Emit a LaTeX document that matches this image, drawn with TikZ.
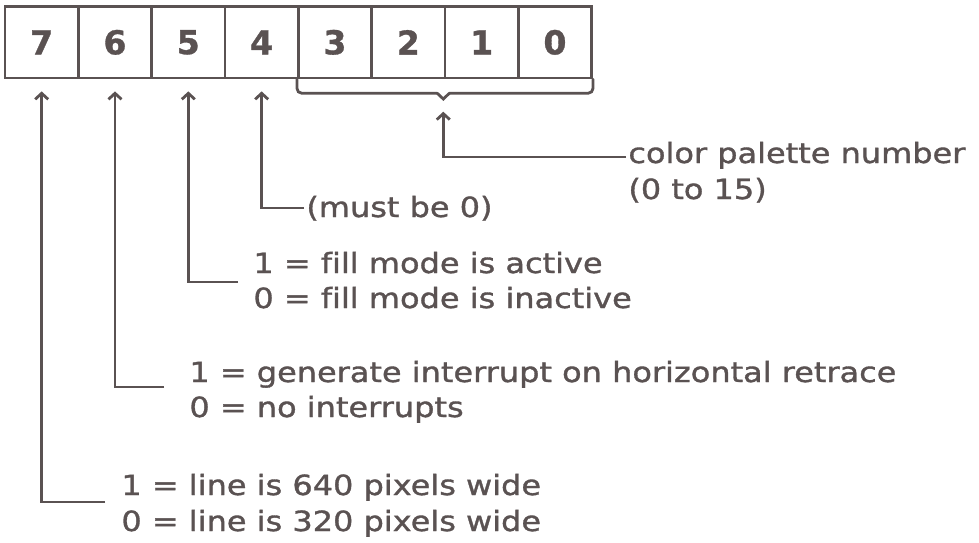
\documentclass[tikz,border=0pt]{standalone}
\usepackage{fontspec}
\setmainfont{DejaVu Sans}[FakeStretch=1.15, FakeBold=1.2, Ligatures=NoCommon]
\newfontfamily\digitfont{DejaVu Sans}[BoldFeatures={FakeBold=1}]
\usetikzlibrary{arrows.meta}
\definecolor{ink}{HTML}{5A5252}
\begin{document}
\begin{tikzpicture}[x=1pt,y=-1pt, line width=2.8pt, draw=ink,
  cell/.style={draw=ink, line width=2.8pt, minimum width=73.33pt, minimum height=71.3pt, inner sep=0pt,
    font=\digitfont\bfseries\fontsize{33}{33}\selectfont, text=ink},
  lbl/.style={anchor=base west, inner sep=0pt, font=\fontsize{27.8}{35}\selectfont, text=ink},
  arr/.style={draw=ink, line width=2.8pt, -{Straight Barb[length=6pt,width=13pt]}},
  bracepart/.style={draw=ink, line width=2.8pt, line cap=round},
]
\useasboundingbox (0,0) rectangle (979,542);
% register cells
\foreach \b/\i in {7/0,6/1,5/2,4/3,3/4,2/5,1/6,0/7}
  \node[cell] (b\b) at ({5+73.33*(\i+0.5)},42.35) {\raisebox{-2.5pt}{\b}};
% brace under bits 3..0
\coordinate (bl) at (437.3,93.3);
\coordinate (bt) at (443.3,99);
\coordinate (br) at (449.3,93.3);
\draw[bracepart, rounded corners=5pt] (b3.south west) |- (bl);
\draw[bracepart] (bl) -- (bt) -- (br);
\draw[bracepart, rounded corners=5pt] (br) -| (b0.south east);
% labels
\node[lbl] (cp1) at (627,163) {color palette number};
\node[lbl] (cp2) at (627,199) {(0 to 15)};
\node[lbl] (m4) at (305,217) {(must be 0)};
\node[lbl] (f1) at (252,273) {1 = fill mode is active};
\node[lbl] (f0) at (252,308) {0 = fill mode is inactive};
\node[lbl] (g1) at (188,382) {1 = generate interrupt on horizontal retrace};
\node[lbl] (g0) at (188,417) {0 = no interrupts};
\node[lbl] (l1) at (120,495) {1 = line is 640 pixels wide};
\node[lbl] (l0) at (120,531) {0 = line is 320 pixels wide};
% connector ends
\coordinate (ec) at (626,157);
\coordinate (e4) at (304,208);
\coordinate (e5) at (238,282);
\coordinate (e6) at (164,387);
\coordinate (e7) at (105,502);
% connectors
\draw[arr, shorten >=12.7pt] (ec) -| (bt);
\draw[arr, shorten >=12pt] (e4) -| (b4.south);
\draw[arr, shorten >=12pt] (e5) -| (b5.south);
\draw[arr, shorten >=12pt] (e6) -| (b6.south);
\draw[arr, shorten >=12pt] (e7) -| (b7.south);
\end{tikzpicture}
\end{document}
